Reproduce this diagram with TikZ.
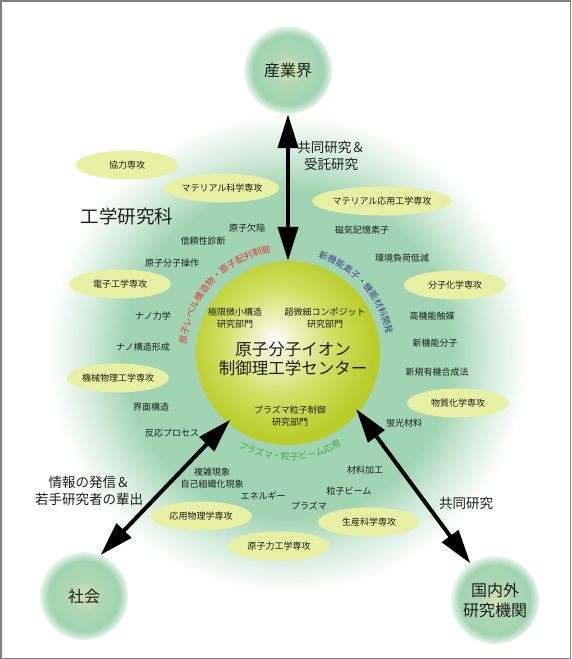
\documentclass[tikz,border=0pt]{standalone}
\usepackage{fontspec}
\setmainfont{Noto Sans CJK JP}
\usetikzlibrary{positioning,arrows.meta,shapes.geometric,decorations.text}
\definecolor{halogreen}{RGB}{160,212,178}
\definecolor{coreyellow}{RGB}{208,224,98}
\definecolor{coreedge}{RGB}{186,205,44}
\definecolor{majorfill}{RGB}{231,240,163}
\definecolor{partnercore}{RGB}{216,226,178}
\definecolor{arcred}{RGB}{226,52,52}
\definecolor{arcblue}{RGB}{62,62,150}
\definecolor{arcgreen}{RGB}{58,168,80}
\definecolor{framegray}{RGB}{128,128,128}
\definecolor{inkgray}{RGB}{30,30,30}
\pgfdeclareradialshading{halo}{\pgfpoint{0bp}{0bp}}{color(0bp)=(halogreen); color(17bp)=(halogreen); color(21bp)=(halogreen!45!white); color(25bp)=(white); color(50bp)=(white)}
\pgfdeclareradialshading{coreshade}{\pgfpoint{-4bp}{4bp}}{color(0bp)=(white); color(4bp)=(coreyellow!30!white); color(15bp)=(coreyellow); color(25bp)=(coreedge); color(50bp)=(coreedge)}
\pgfdeclareradialshading{partnershade}{\pgfpoint{0bp}{0bp}}{color(0bp)=(partnercore); color(9bp)=(halogreen!75!partnercore); color(20bp)=(halogreen); color(25bp)=(halogreen!25!white); color(50bp)=(halogreen!25!white)}

\begin{document}
\begin{tikzpicture}[
  x=1pt, y=-1pt,
  every node/.style={text=inkgray},
  major/.style={ellipse, fill=majorfill, minimum width=102pt, minimum height=29pt, inner sep=0pt, font=\fontsize{9}{11}\selectfont},
  topic/.style={inner sep=0pt, align=center, font=\fontsize{9}{11.5}\selectfont},
  partner/.style={circle, shading=partnershade, minimum size=88pt, inner sep=0pt, align=center, font=\fontsize{16}{20}\selectfont},
  core/.style={circle, shading=coreshade, minimum size=184pt, inner sep=0pt},
  flowlabel/.style={inner sep=0pt, align=center, font=\fontsize{13.5}{17.5}\selectfont},
  arr/.style={{Triangle[length=34pt,width=20pt]}-{Triangle[length=34pt,width=20pt]}, line width=4pt, black},
  arclabel/.style={decorate, decoration={text along path, text align=center, text={#1}}}
]
\useasboundingbox (0,0) rectangle (571,659);

\node[circle, shading=halo, minimum size=480pt, inner sep=0pt] (halo) at (288,353) {};

\node[partner] (industry) at (288,70) {産業界};

\node[partner] (society) at (84,596) {社会};

\node[partner] (institutes) at (495,600) {国内外\\研究機関};

\node[inner sep=0pt, font=\fontsize{18.5}{20}\selectfont] (school) at (127,216) {工学研究科};

\node[major, minimum width=103pt] (kyoryoku) at (127,165) {協力専攻};

\node[major] (matsci) at (222,188) {マテリアル科学専攻};

\node[major, minimum width=121pt] (matapp) at (382,201) {マテリアル応用工学専攻};

\node[major] (denshi) at (120,284) {電子工学専攻};

\node[major] (bunshi) at (455,285) {分子化学専攻};

\node[major] (kikai) at (118,378) {機械物理工学専攻};

\node[major] (busshitsu) at (458,403) {物質化学専攻};

\node[major] (oyo) at (201,516) {応用物理学専攻};

\node[major] (seisan) at (369,522) {生産科学専攻};

\node[major] (genshiryoku) at (279,546) {原子力工学専攻};

\node[topic] (kekkan) at (247,228) {原子欠陥};
\node[topic] (shindan) at (203,241) {信頼性診断};
\node[topic] (sosa) at (172,263) {原子分子操作};
\node[topic] (nanoriki) at (153,316) {ナノ力学};
\node[topic] (nanokeisei) at (143,347) {ナノ構造形成};
\node[topic] (kaimen) at (151,407) {界面構造};
\node[topic] (hanno) at (172,433) {反応プロセス};
\node[topic] (jiki) at (362,230) {磁気記憶素子};
\node[topic] (kankyo) at (402,258) {環境負荷低減};
\node[topic] (shokubai) at (432,316) {高機能触媒};
\node[topic] (bunshikino) at (435,343) {新機能分子};
\node[topic] (gosei) at (437,372) {新規有機合成法};
\node[topic] (keiko) at (404,423) {蛍光材料};
\node[topic] (fukuzatsu) at (212,478) {複雑現象\\自己組織化現象};
\node[topic] (energy) at (263,496) {エネルギー};
\node[topic] (plasma) at (309,506) {プラズマ};
\node[topic] (kako) at (365,470) {材料加工};
\node[topic] (beam) at (349,491) {粒子ビーム};

\node[core] (core) at (288,353) {};

\node[inner sep=0pt, align=center, font=\fontsize{16.5}{18.5}\selectfont] (title) at (293,359) {原子分子イオン\\制御理工学センター};

\node[topic] (kyokugen) at (235,318) {極限微小構造\\研究部門};
\node[topic] (chobisai) at (325,318) {超微細コンポジット\\研究部門};
\node[topic] (plasmadiv) at (290,416) {プラズマ粒子制御\\研究部門};

\path[arclabel={|\fontsize{9}{9}\selectfont\color{arcred}|原子レベル構造物・原子配列制御}]
  (core.center) ++(-185:102) arc[start angle=-185, end angle=-90, radius=102];
\path[arclabel={|\fontsize{9}{9}\selectfont\color{arcblue}|新機能素子・機能材料開発}]
  (core.center) ++(-80:100) arc[start angle=-80, end angle=-3, radius=100];
\path[arclabel={|\fontsize{9}{9}\selectfont\color{arcgreen}|プラズマ・粒子ビーム応用}]
  (core.center) ++(131:107) arc[start angle=131, end angle=47, radius=107];

\node[flowlabel] (kyodo1) at (331,156) {共同研究＆\\受託研究};
\node[flowlabel] (joho) at (89,491) {情報の発信＆\\若手研究者の輩出};
\node[flowlabel] (kyodo2) at (466,503) {共同研究};

\draw[arr] (industry) -- (core);
\draw[arr, shorten >=-4pt] (society.68) -- (core.229);
\draw[arr, shorten <=-4pt] (core.320) -- (institutes.124);

\draw[framegray, line width=1.5pt] (0.75,0.75) rectangle (570.25,658.25);
\end{tikzpicture}
\end{document}
